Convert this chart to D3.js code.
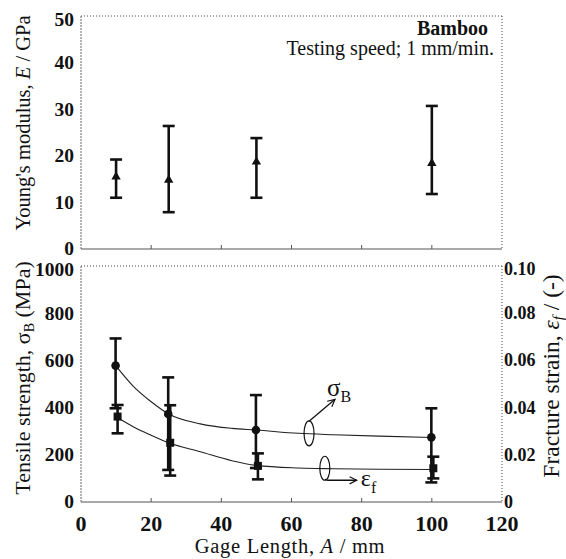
<!DOCTYPE html>
<html>
<head>
<meta charset="UTF-8">
<script src="https://d3js.org/d3.v7.min.js"></script>
<style>
  body { margin: 0; background: #fff; }
  svg text { font-family: "Liberation Serif", "Times New Roman", Times, "DejaVu Serif", serif; fill: #111; }
</style>
</head>
<body>
<script>
// Gage lengths (mm)
var gage = [10, 25, 50, 100];

// Young's modulus E (GPa), mean and error bar ends
var modulus = [15.5, 14.8, 18.7, 18.4];
var modulusLow = [11.0, 7.9, 11.0, 11.8];
var modulusHigh = [19.2, 26.4, 23.8, 30.7];

// Tensile strength sigma_B (MPa)
var strength = [578, 373, 305, 274];
var strengthLow = [397, 136, 144, 83];
var strengthHigh = [693, 528, 453, 397];

// Fracture strain eps_f (-)
var strain = [0.0362, 0.0251, 0.0153, 0.0143];
var strainLow = [0.0291, 0.0112, 0.0096, 0.0100];
var strainHigh = [0.0411, 0.0410, 0.0206, 0.0192];

// fitted curves
var fitX = [10, 15, 20, 25, 34, 43, 50, 62, 72, 85, 100];
var strengthFit = [576, 489, 425, 373, 331, 312, 305, 291, 285, 279, 273];
var strainFit = [0.0361, 0.0318, 0.0283, 0.0251, 0.0213, 0.0175, 0.0155, 0.0144, 0.0141, 0.0139, 0.0138];

var xTicks = [0, 20, 40, 60, 80, 100, 120];
var eTicks = [0, 10, 20, 30, 40, 50];
var sTicks = [0, 200, 400, 600, 800, 1000];
var fTicks = [0, 0.02, 0.04, 0.06, 0.08, 0.10];

var W = 566, H = 559;
var left = 81, right = 502;
var topY0 = 16, topY1 = 249;
var botY0 = 266, botY1 = 502;

var svg = d3.select("body").append("svg").attr("width", W).attr("height", H)
  .attr("font-family", "'Liberation Serif', 'Times New Roman', Times, 'DejaVu Serif', serif");

var x = d3.scaleLinear().domain([0, 120]).range([left, right]);
var yE = d3.scaleLinear().domain([0, 50]).range([topY1, topY0]);
var yS = d3.scaleLinear().domain([0, 1000]).range([botY1, botY0]);
var yF = d3.scaleLinear().domain([0, 0.1]).range([botY1, botY0]);

// panel frames: dotted top/right, grey left/bottom
function frame(y0, y1) {
  var g = svg.append("g");
  g.append("line").attr("x1", left).attr("x2", right).attr("y1", y0).attr("y2", y0)
    .attr("stroke", "#444").attr("stroke-width", 1).attr("stroke-dasharray", "1,2");
  g.append("line").attr("x1", right).attr("x2", right).attr("y1", y0).attr("y2", y1)
    .attr("stroke", "#444").attr("stroke-width", 1).attr("stroke-dasharray", "1,2");
  g.append("line").attr("x1", left).attr("x2", left).attr("y1", y0).attr("y2", y1)
    .attr("stroke", "#666").attr("stroke-width", 1).attr("stroke-dasharray", "2,1");
  g.append("line").attr("x1", left).attr("x2", right).attr("y1", y1).attr("y2", y1)
    .attr("stroke", "#555").attr("stroke-width", 1.2);
}
frame(topY0, topY1);
frame(botY0, botY1);

// inner ticks on the x axes
[topY1, botY1].forEach(function(yb) {
  svg.append("g").selectAll("line").data(xTicks.slice(1, -1)).join("line")
    .attr("x1", function(d) { return x(d); }).attr("x2", function(d) { return x(d); })
    .attr("y1", yb).attr("y2", yb - 4)
    .attr("stroke", "#555").attr("stroke-width", 1);
});

// tick labels (top labels pushed down a little, as in the original)
svg.append("g").selectAll("text").data(eTicks).join("text")
  .attr("x", 74).attr("y", function(d) { return yE(d) + (d === 50 ? 4 : 0); }).attr("dy", "0.33em")
  .attr("text-anchor", "end").attr("font-weight", "bold").attr("font-size", 19.5)
  .text(function(d) { return d; });
svg.append("g").selectAll("text").data(sTicks).join("text")
  .attr("x", 74).attr("y", function(d) { return yS(d) + (d === 1000 ? 4 : 0); }).attr("dy", "0.33em")
  .attr("text-anchor", "end").attr("font-weight", "bold").attr("font-size", 19.5)
  .text(function(d) { return d; });
svg.append("g").selectAll("text").data(fTicks).join("text")
  .attr("x", 504).attr("y", function(d) { return yF(d) + (d === 0.1 ? 3 : 0); }).attr("dy", "0.33em")
  .attr("text-anchor", "start").attr("font-weight", "bold").attr("font-size", 18)
  .text(function(d) { return d === 0 ? "0" : d3.format(".2f")(d); });
svg.append("g").selectAll("text").data(xTicks).join("text")
  .attr("x", function(d) { return x(d); }).attr("y", 531)
  .attr("text-anchor", "middle").attr("font-weight", "bold").attr("font-size", 22)
  .text(function(d) { return d; });

// axis titles
var t1 = svg.append("text").attr("transform", "translate(30,123) rotate(-90)")
  .attr("text-anchor", "middle").attr("font-size", 20.5);
t1.append("tspan").text("Young's modulus, ");
t1.append("tspan").attr("font-style", "italic").text("E");
t1.append("tspan").text(" / GPa");

var t2 = svg.append("text").attr("transform", "translate(30,378) rotate(-90)")
  .attr("text-anchor", "middle").attr("font-size", 22);
t2.append("tspan").text("Tensile strength, \u03c3");
t2.append("tspan").attr("font-size", 14).attr("dy", 4).text("B");
t2.append("tspan").attr("dy", -4).text(" (MPa)");

var t3 = svg.append("text").attr("transform", "translate(559,376) rotate(-90)")
  .attr("text-anchor", "middle").attr("font-size", 23.5);
t3.append("tspan").text("Fracture strain, ");
t3.append("tspan").attr("font-style", "italic").text("\u03b5");
t3.append("tspan").attr("font-size", 15).attr("font-style", "italic").attr("dy", 4).text("f");
t3.append("tspan").attr("dy", -4).text(" / (-)");

var t4 = svg.append("text").attr("x", 290).attr("y", 553)
  .attr("text-anchor", "middle").attr("font-size", 20.5).attr("letter-spacing", 0.7);
t4.append("tspan").text("Gage Length, ");
t4.append("tspan").attr("font-style", "italic").text("A");
t4.append("tspan").text(" / mm");

svg.append("text").attr("x", 488).attr("y", 35).attr("text-anchor", "end")
  .attr("font-weight", "bold").attr("font-size", 20).text("Bamboo");
svg.append("text").attr("x", 494).attr("y", 55).attr("text-anchor", "end")
  .attr("font-size", 20).text("Testing speed; 1 mm/min.");

// fitted curves
var line = d3.line().curve(d3.curveMonotoneX);
svg.append("path")
  .attr("d", line(fitX.map(function(v, i) { return [x(v), yS(strengthFit[i])]; })))
  .attr("fill", "none").attr("stroke", "#222").attr("stroke-width", 1.1);
svg.append("path")
  .attr("d", line(fitX.map(function(v, i) { return [x(v), yF(strainFit[i])]; })))
  .attr("fill", "none").attr("stroke", "#222").attr("stroke-width", 1.1);

// error bars
function errorBars(ys, mean, lo, hi, dx) {
  var g = svg.append("g").attr("stroke", "#111").attr("stroke-width", 2.6);
  gage.forEach(function(v, i) {
    var cx = x(v) + dx;
    g.append("line").attr("x1", cx).attr("x2", cx).attr("y1", ys(lo[i])).attr("y2", ys(hi[i]));
    g.append("line").attr("x1", cx - 6).attr("x2", cx + 6).attr("y1", ys(lo[i])).attr("y2", ys(lo[i]));
    g.append("line").attr("x1", cx - 6).attr("x2", cx + 6).attr("y1", ys(hi[i])).attr("y2", ys(hi[i]));
  });
}
errorBars(yE, modulus, modulusLow, modulusHigh, 0);
errorBars(yS, strength, strengthLow, strengthHigh, -0.5);
errorBars(yF, strain, strainLow, strainHigh, 1.5);

// markers
svg.append("g").selectAll("path").data(gage).join("path")
  .attr("transform", function(d, i) { return "translate(" + x(d) + "," + yE(modulus[i]) + ")"; })
  .attr("d", d3.symbol().type(d3.symbolTriangle).size(38))
  .attr("fill", "#111");
svg.append("g").selectAll("circle").data(gage).join("circle")
  .attr("cx", function(d) { return x(d) - 0.5; }).attr("cy", function(d, i) { return yS(strength[i]); })
  .attr("r", 4.3).attr("fill", "#111");
svg.append("g").selectAll("rect").data(gage).join("rect")
  .attr("x", function(d) { return x(d) + 1.5 - 4; }).attr("y", function(d, i) { return yF(strain[i]) - 4; })
  .attr("width", 8).attr("height", 8).attr("fill", "#111");

// curve labels with ellipse markers and arrows
svg.append("defs").append("marker").attr("id", "arr")
  .attr("viewBox", "0 0 10 10").attr("refX", 9).attr("refY", 5)
  .attr("markerWidth", 9).attr("markerHeight", 9).attr("orient", "auto")
  .attr("markerUnits", "userSpaceOnUse")
  .append("path").attr("d", "M1,1 L9,5 L1,9").attr("fill", "none").attr("stroke", "#111").attr("stroke-width", 1.3);

var ex1 = x(65), ey1 = yS(291);
svg.append("ellipse").attr("cx", ex1).attr("cy", ey1).attr("rx", 5).attr("ry", 12.5)
  .attr("fill", "none").attr("stroke", "#111").attr("stroke-width", 1.2);
svg.append("line").attr("x1", ex1).attr("y1", ey1 - 12).attr("x2", ex1 + 26).attr("y2", ey1 - 34)
  .attr("stroke", "#111").attr("stroke-width", 1.3).attr("marker-end", "url(#arr)");
var l1 = svg.append("text").attr("x", ex1 + 18).attr("y", ey1 - 37).attr("font-size", 25);
l1.append("tspan").text("\u03c3");
l1.append("tspan").attr("font-size", 16).attr("dy", 6).text("B");

var ex2 = x(69.5), ey2 = yF(0.0143);
svg.append("ellipse").attr("cx", ex2).attr("cy", ey2).attr("rx", 5).attr("ry", 12)
  .attr("fill", "none").attr("stroke", "#111").attr("stroke-width", 1.2);
svg.append("path").attr("d", "M" + ex2 + "," + (ey2 + 11) + " L" + (ex2 + 3) + "," + (ey2 + 12) + " L" + (ex2 + 32) + "," + (ey2 + 12))
  .attr("fill", "none").attr("stroke", "#111").attr("stroke-width", 1.3).attr("marker-end", "url(#arr)");
var l2 = svg.append("text").attr("x", ex2 + 36).attr("y", ey2 + 18).attr("font-size", 24);
l2.append("tspan").text("\u03b5");
l2.append("tspan").attr("font-size", 16).attr("dy", 7).text("f");
</script>
</body>
</html>
